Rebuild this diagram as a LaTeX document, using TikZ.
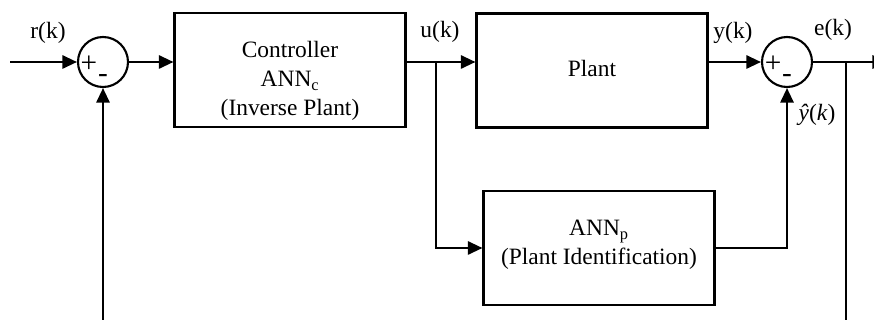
\documentclass[tikz,border=0pt]{standalone}
\usepackage{fontspec}
\setmainfont{Liberation Serif}
\usetikzlibrary{arrows.meta,positioning}

\begin{document}
\begin{tikzpicture}[x=0.03cm, y=-0.03cm,
    block/.style={rectangle, draw, line width=1.8pt, minimum width=6.93cm, minimum height=3.42cm},
    sum/.style={circle, draw, line width=1.8pt, minimum size=1.5cm, inner sep=0pt},
    sign/.style={inner sep=0pt, font=\fontsize{25}{25}\selectfont},
    txt/.style={align=center, inner sep=0pt},
    arrow/.style={-{Triangle[length=0.44cm, width=0.4cm]}},
    line width=1.8pt, font=\fontsize{20}{25}\selectfont
]
\clip (0,0) rectangle (874,320);

% Blocks
\node[block] (ctrl) at (290,70) {};
\node[block] (plant) at (592,70.5) {};
\node[block] (annp) at (599,248) {};
\node[txt] (ctrltxt) at (290,81) {Controller\\ANN\textsubscript{c}\\(Inverse Plant)};
\node[txt] (planttxt) at (592,68) {Plant};
\node[txt] (annptxt) at (599,245) {ANN\textsubscript{p}\\(Plant Identification)};

% Summing junctions
\node[sum] (sumin) at (103,62) {};
\node[sum] (sumout) at (787,62) {};
\node[sign] (pin) at (89,64) {+};
\node[sign] (min) at (103,79) {-};
\node[sign] (pout) at (773,64) {+};
\node[sign] (mout) at (787,79) {-};

% Branch points and free ends
\coordinate (in) at (10,62);
\coordinate (uk) at (436,62);
\coordinate (ek) at (846,62);
\coordinate (out) at (887,62);
\coordinate (fbin) at (103,330);
\coordinate (fbout) at (846,330);

% Signals
\draw[arrow] (in) -- (sumin);
\draw[arrow] (sumin) -- (sumin -| ctrl.west);
\draw (ctrl.east |- sumin) -- (uk);
\draw[arrow] (uk) -- (uk -| plant.west);
\draw[arrow] (uk) |- (annp);
\draw[arrow] (plant.east |- sumout) -- (sumout);
\draw[arrow] (annp) -| (sumout);
\draw (sumout) -- (ek);
\draw[arrow] (ek) -- (out);
\draw (ek) -- (fbout);
\draw[arrow] (fbin) -- (sumin);

% Labels
\node (rlbl) at (48,33) {r(k)};
\node (ulbl) at (440,32) {u(k)};
\node (ylbl) at (733,33) {y(k)};
\node (elbl) at (833,30) {e(k)};
\node (yhlbl) at (817,115) {\textit{ŷ}(\textit{k})};
\end{tikzpicture}
\end{document}
